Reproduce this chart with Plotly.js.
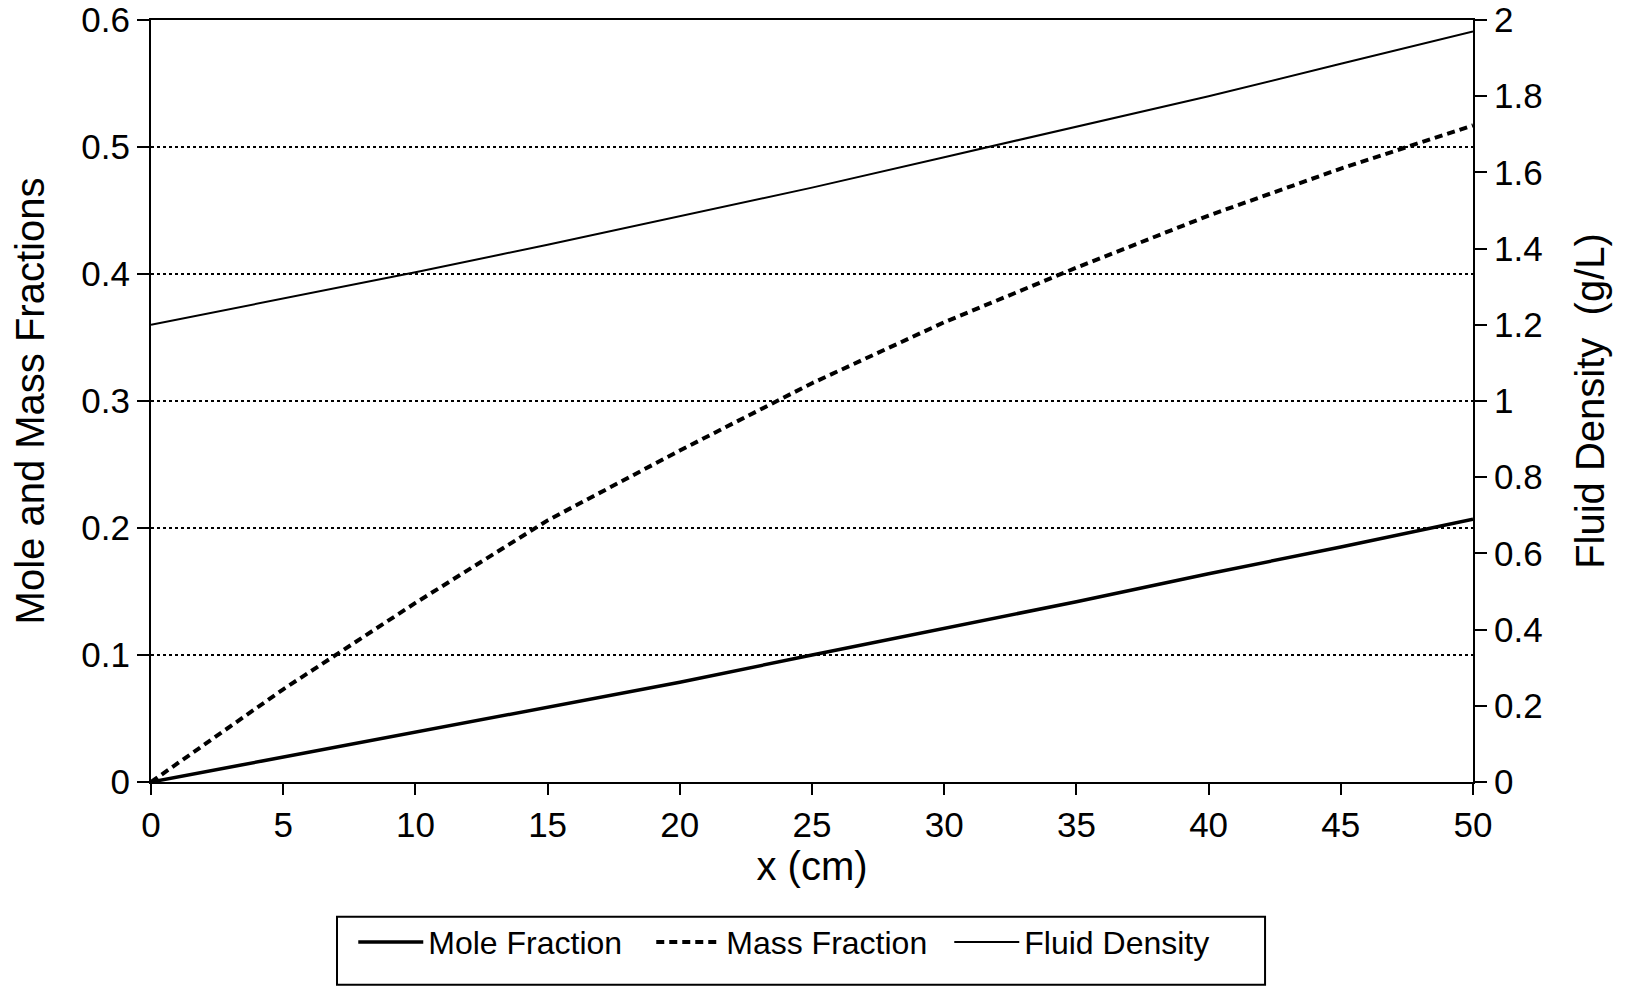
<!DOCTYPE html>
<html>
<head>
<meta charset="utf-8">
<script src="https://cdn.plot.ly/plotly-3.0.1.min.js"></script>
<style>
html,body{margin:0;padding:0;background:#fff;}
#chart{width:1626px;height:988px;}
</style>
</head>
<body>
<div id="chart"></div>
<script>
// Data
const xCm = [0, 5, 10, 15, 20, 25, 30, 35, 40, 45, 50];
const moleFraction = [0, 0.0196, 0.039, 0.059, 0.0785, 0.1, 0.121, 0.142, 0.164, 0.185, 0.207];
const massFraction = [0, 0.073, 0.141, 0.206, 0.261, 0.314, 0.362, 0.405, 0.446, 0.483, 0.517];
const fluidDensity = [1.2, 1.268, 1.338, 1.41, 1.485, 1.56, 1.64, 1.72, 1.80, 1.885, 1.97];
const seriesNames = ["Mole Fraction", "Mass Fraction", "Fluid Density"];

const FONT = '"Liberation Sans", Arial, Helvetica, sans-serif';

const traces = [
  {x: xCm, y: moleFraction, name: seriesNames[0], type: 'scatter', mode: 'lines',
   line: {color: '#000', width: 3.5}, yaxis: 'y'},
  {x: xCm, y: massFraction, name: seriesNames[1], type: 'scatter', mode: 'lines',
   line: {color: '#000', width: 4, dash: '8px,5px'}, yaxis: 'y'},
  {x: xCm, y: fluidDensity, name: seriesNames[2], type: 'scatter', mode: 'lines',
   line: {color: '#000', width: 2}, yaxis: 'y2'}
];

const layout = {
  width: 1626, height: 988,
  margin: {l: 151, r: 153, t: 20, b: 206},
  paper_bgcolor: '#fff', plot_bgcolor: '#fff',
  font: {family: FONT, color: '#000', size: 35},
  showlegend: true,
  legend: {orientation: 'h', x: 0.153, xanchor: 'left', y: -0.174, yanchor: 'top',
           font: {family: FONT, size: 32, color: '#000'}, bgcolor: 'rgba(0,0,0,0)',
           borderwidth: 0, itemwidth: 65, entrywidth: 218, entrywidthmode: 'pixels'},
  xaxis: {
    range: [0, 50], dtick: 5, tick0: 0,
    showline: true, linecolor: '#000', linewidth: 2, mirror: true,
    ticks: 'outside', ticklen: 11, tickwidth: 2, tickcolor: '#000',
    showgrid: false, zeroline: false,
    tickfont: {family: FONT, size: 35, color: '#000'},
    title: {text: 'x (cm)', font: {family: FONT, size: 40, color: '#000'}, standoff: 7}
  },
  yaxis: {
    range: [0, 0.6], dtick: 0.1, tick0: 0,
    showline: true, linecolor: '#000', linewidth: 2,
    ticks: 'outside', ticklen: 12, tickwidth: 2, tickcolor: '#000',
    showgrid: true, gridcolor: '#000', gridwidth: 2, griddash: 'dot',
    zeroline: false,
    tickfont: {family: FONT, size: 35, color: '#000'},
    title: {text: 'Mole and Mass Fractions', font: {family: FONT, size: 40, color: '#000'}, standoff: 24}
  },
  yaxis2: {
    range: [0, 2], dtick: 0.2, tick0: 0,
    overlaying: 'y', side: 'right',
    showline: true, linecolor: '#000', linewidth: 2,
    ticks: 'outside', ticklen: 12, tickwidth: 2, tickcolor: '#000',
    showgrid: false, zeroline: false,
    tickfont: {family: FONT, size: 35, color: '#000'},
    title: {text: 'Fluid Density  (g/L)', font: {family: FONT, size: 40, color: '#000'}, standoff: 34}
  },
  shapes: [
    {type: 'rect', xref: 'paper', yref: 'paper', x0: 0.1407, x1: 0.8427, y0: -0.266, y1: -0.177,
     line: {color: '#000', width: 2}, fillcolor: 'rgba(0,0,0,0)'}
  ]
};

Plotly.newPlot('chart', traces, layout, {displayModeBar: false, staticPlot: true});
</script>
</body>
</html>
